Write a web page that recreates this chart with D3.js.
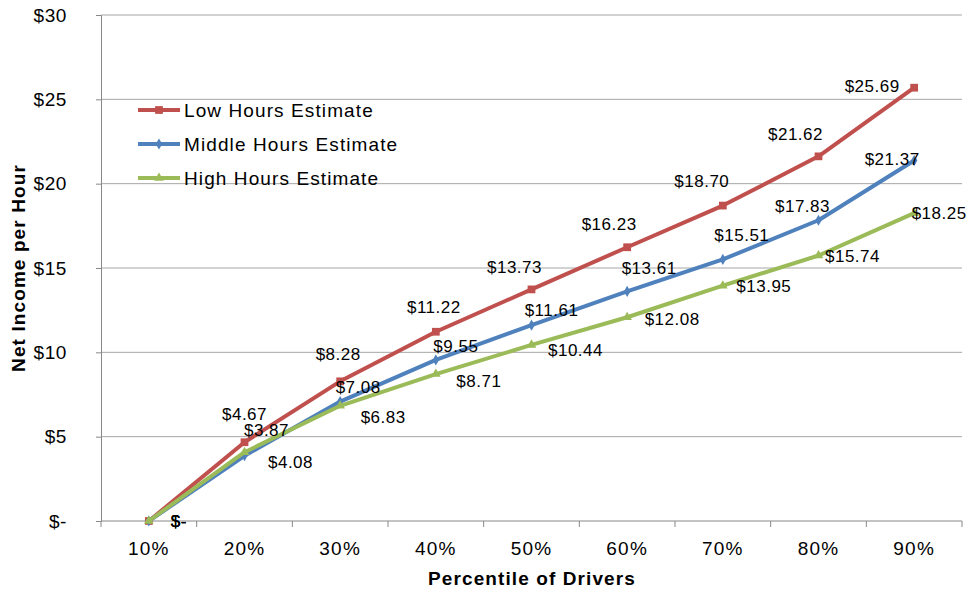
<!DOCTYPE html>
<meta charset="utf-8">
<script src="https://d3js.org/d3.v7.min.js"></script>
<style>
body { margin: 0; background: #fff; }
text { font-family: "Liberation Sans", Arial, sans-serif; fill: #000; }
</style>
<body>
<svg width="967" height="593"></svg>
<script>
var categories = ['10%', '20%', '30%', '40%', '50%', '60%', '70%', '80%', '90%'];
var lowHours = [0, 4.67, 8.28, 11.22, 13.73, 16.23, 18.70, 21.62, 25.69];
var middleHours = [0, 3.87, 7.08, 9.55, 11.61, 13.61, 15.51, 17.83, 21.37];
var highHours = [0, 4.08, 6.83, 8.71, 10.44, 12.08, 13.95, 15.74, 18.25];
var yTicks = [0, 5, 10, 15, 20, 25, 30];

// label nudges (px) per point, as placed in the original
var lowOff = [[30,0],[0,-28],[-2,-27],[-2,-24],[-17,-22],[-18,-23],[-21,-24],[-23,-22],[-42,-1]];
var midOff = [[30,0],[22,-25],[18,-14],[20,-13],[20,-15],[22,-23],[19,-24],[-16,-14],[-22,-1]];
var highOff = [[30,0],[46,10],[43,12],[43,7],[44,6],[45,2],[41,1],[34,1],[25,0]];

var series = [
  {name: 'Low Hours Estimate', values: lowHours, color: '#C0504D', marker: d3.symbolSquare, size: 60, off: lowOff},
  {name: 'Middle Hours Estimate', values: middleHours, color: '#4F81BD', marker: d3.symbolDiamond, size: 36, off: midOff},
  {name: 'High Hours Estimate', values: highHours, color: '#9BBB59', marker: d3.symbolTriangle, size: 40, off: highOff}
];

var plotLeft = 101, plotRight = 962, plotTop = 15, plotBottom = 521;
var svg = d3.select('svg');

var x = d3.scaleBand().domain(categories).range([plotLeft, plotRight]);
var y = d3.scaleLinear().domain([0, 30]).range([plotBottom, plotTop]);
var cx = function(i){ return x(categories[i]) + x.bandwidth() / 2; };

function money(v){ return v === 0 ? '$-' : '$' + d3.format('.2f')(v); }

// gridlines
svg.append('g').selectAll('line').data(yTicks.slice(1)).enter().append('line')
  .attr('x1', plotLeft).attr('x2', plotRight)
  .attr('y1', function(d){ return y(d); }).attr('y2', function(d){ return y(d); })
  .attr('stroke', '#a6a6a6').attr('stroke-width', 1);

// y axis
var yAxis = svg.append('g').attr('transform', 'translate(' + plotLeft + ',0)')
  .call(d3.axisLeft(y).tickValues(yTicks).tickSize(5).tickPadding(29)
    .tickFormat(function(d){ return d === 0 ? '$-' : '$' + d; }));
yAxis.select('.domain').attr('stroke', '#888');
yAxis.selectAll('.tick line').attr('stroke', '#888');
yAxis.selectAll('text').style('font-size', '19px').style('letter-spacing', '0.6px')
  .style('font-family', '"Liberation Sans", Arial, sans-serif');

// x axis
svg.append('line').attr('x1', plotLeft).attr('x2', plotRight).attr('y1', plotBottom).attr('y2', plotBottom).attr('stroke', '#888');
svg.append('g').selectAll('line').data(d3.range(categories.length + 1)).enter().append('line')
  .attr('x1', function(i){ return plotLeft + i * x.bandwidth(); })
  .attr('x2', function(i){ return plotLeft + i * x.bandwidth(); })
  .attr('y1', plotBottom).attr('y2', plotBottom + 6).attr('stroke', '#888');
svg.append('g').selectAll('text').data(categories).enter().append('text')
  .attr('x', function(d, i){ return cx(i); }).attr('y', 555)
  .attr('text-anchor', 'middle').style('font-size', '19px').style('letter-spacing', '1.2px')
  .text(function(d){ return d; });

// axis titles
svg.append('text').attr('x', 532).attr('y', 585).attr('text-anchor', 'middle')
  .style('font-size', '19px').style('font-weight', 'bold').style('letter-spacing', '1.1px')
  .text('Percentile of Drivers');
svg.append('text').attr('transform', 'translate(25,268) rotate(-90)').attr('text-anchor', 'middle')
  .style('font-size', '19px').style('font-weight', 'bold').style('letter-spacing', '1.1px')
  .text('Net Income per Hour');

var line = d3.line().x(function(d, i){ return cx(i); }).y(function(d){ return y(d); });

series.forEach(function(s){
  var g = svg.append('g');
  g.append('path').datum(s.values).attr('d', line)
    .attr('fill', 'none').attr('stroke', s.color).attr('stroke-width', 4).attr('stroke-linejoin', 'round');
  g.selectAll('path.m').data(s.values).enter().append('path').attr('class', 'm')
    .attr('transform', function(d, i){ return 'translate(' + cx(i) + ',' + y(d) + ')'; })
    .attr('d', d3.symbol().type(s.marker).size(s.size)).attr('fill', s.color);
});

series.forEach(function(s){
  svg.append('g').selectAll('text').data(s.values).enter().append('text')
    .attr('x', function(d, i){ return cx(i) + s.off[i][0]; })
    .attr('y', function(d, i){ return y(d) + s.off[i][1]; })
    .attr('text-anchor', 'middle').attr('dominant-baseline', 'central')
    .style('font-size', '17px').style('letter-spacing', '0.5px')
    .text(function(d){ return money(d); });
});

// legend
var legend = svg.append('g');
series.forEach(function(s, i){
  var ly = 110 + i * 34;
  legend.append('line').attr('x1', 138).attr('x2', 180).attr('y1', ly).attr('y2', ly)
    .attr('stroke', s.color).attr('stroke-width', 4);
  legend.append('path').attr('transform', 'translate(159,' + ly + ')')
    .attr('d', d3.symbol().type(s.marker).size(s.size)).attr('fill', s.color);
  legend.append('text').attr('x', 184).attr('y', ly).attr('dominant-baseline', 'central')
    .style('font-size', '19px').style('letter-spacing', '1.1px').text(s.name);
});
</script>
